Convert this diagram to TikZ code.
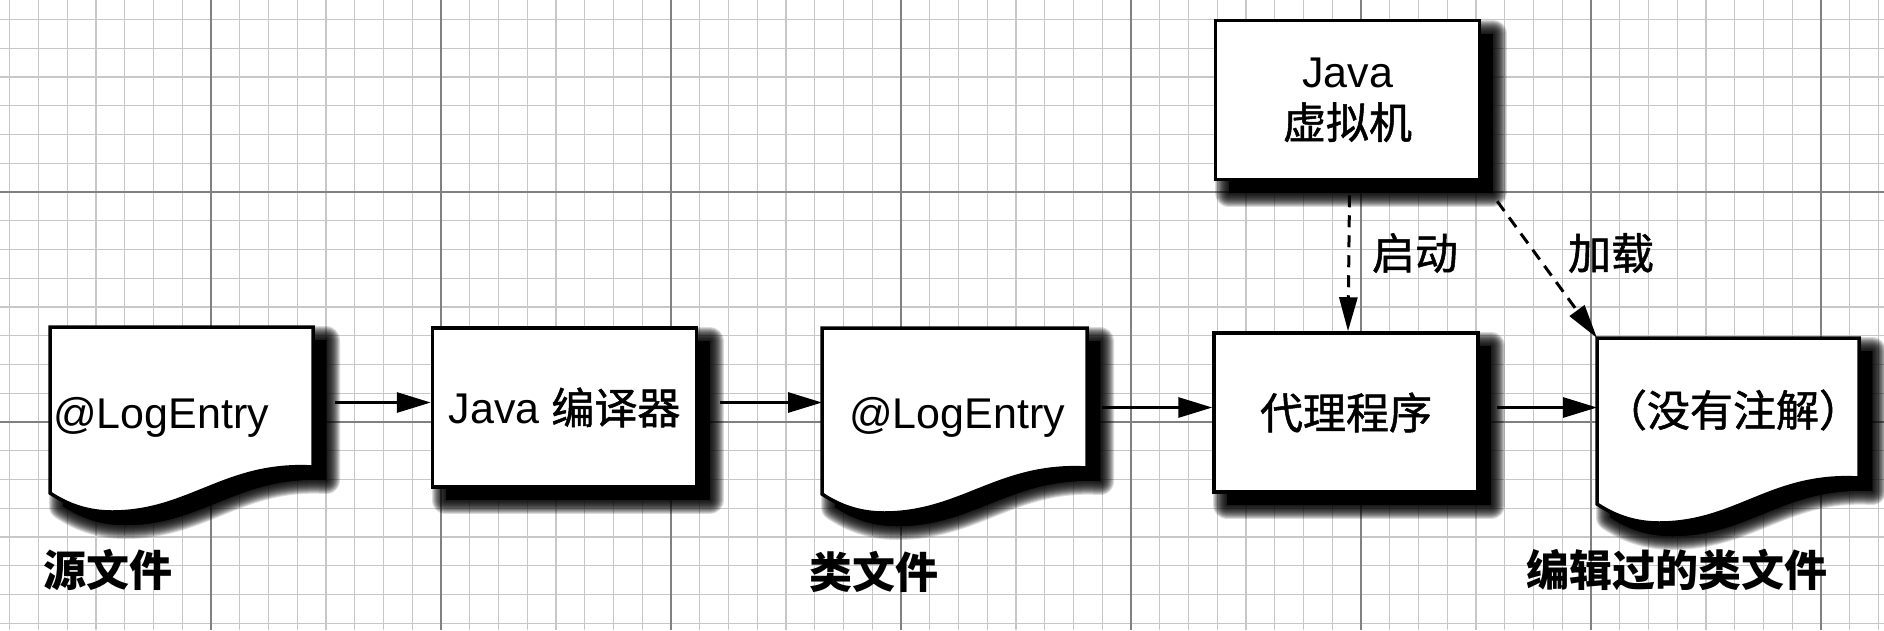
\documentclass[tikz,border=0pt]{standalone}
\usepackage{fontspec}
\setmainfont{Liberation Sans}
\newfontfamily\cjk{Noto Sans CJK SC}
\newfontfamily\cjkm{Noto Sans CJK SC}[FakeBold=1.2]
\usetikzlibrary{arrows.meta}
\tikzset{
  minorg/.style={draw=black!22, line width=1.3pt},
  majorg/.style={draw=black!50, line width=1.8pt},
  shl/.style={preaction={draw=black, fill=black, line width=#1, opacity=0.14, line join=round, transform canvas={shift={(13pt,-13pt)}}}},
  shad/.style={shl=28pt, shl=26pt, shl=24pt, shl=22pt, shl=20pt, shl=18pt, shl=16pt, shl=14pt, shl=12pt, shl=10pt, shl=8pt, shl=6pt, shl=4pt, shl=2pt,
    preaction={fill=black, transform canvas={shift={(13pt,-13pt)}}}},
  box/.style={draw=black, line width=3.5pt, fill=white, shad, minimum width=264pt, minimum height=159pt, inner sep=0pt, font=\fontsize{43pt}{53pt}\selectfont, align=center},
  docshape/.style={draw=black, line width=3.5pt, fill=white, shad, line join=miter},
  docanchor/.style={minimum width=263pt, minimum height=140pt, inner sep=0pt, anchor=north west},
  txt/.style={font=\fontsize{43pt}{53pt}\selectfont, inner sep=0pt},
  lbl/.style={font=\fontsize{43pt}{53pt}\selectfont\cjk\bfseries, inner sep=0pt},
  arr/.style={line width=3pt, -{Triangle[length=34pt,width=20pt,fill=black]}},
  darr/.style={line width=3pt, dash pattern=on 12pt off 8pt, -{Triangle[length=34pt,width=18pt,fill=black]}},
}
\newcommand\mydocpath[3]{%
  (#1,#2) -- (#3,#2) -- (#3,{#2+140})
  .. controls ({#3-88},{#2+135}) and ({#1+140},{#2+185}) .. ({#1+62},{#2+185})
  .. controls ({#1+35},{#2+185}) and ({#1+15},{#2+176}) .. (#1,{#2+166}) -- cycle}
\begin{document}
\begin{tikzpicture}[x=1pt,y=-1pt]
\useasboundingbox (0,0) rectangle (1884,630);
\fill[white] (0,0) rectangle (1884,630);
% grid
\foreach \i in {0,...,65} { \draw[minorg] ({9.75+28.75*\i},0) -- ({9.75+28.75*\i},630); }
\foreach \j in {0,...,21} { \draw[minorg] (0,{19.5+28.75*\j}) -- (1884,{19.5+28.75*\j}); }
\foreach \x in {211,441,671,901,1131,1361,1591,1821} { \draw[majorg] (\x,0) -- (\x,630); }
\foreach \y in {192,422} { \draw[majorg] (0,\y) -- (1884,\y); }

% documents
\path[docshape] \mydocpath{50}{327}{313};
\path[docshape] \mydocpath{822}{328}{1087};
\path[docshape] \mydocpath{1597}{338}{1859};
\node[docanchor] (doc1) at (50,327) {};
\node[docanchor] (doc2) at (822,328) {};
\node[docanchor] (doc3) at (1597,338) {};
\node[txt] (t1) at (161,417) {@LogEntry};
\node[txt] (t2) at (957,417) {@LogEntry};
\node[txt] (t3) at (1733,410) {\cjkm （没有注解）};

% boxes
\node[box] (comp) at (564.5,407.5) {Java {\cjkm 编译器}};
\node[box] (agent) at (1346,412.5) {\cjkm 代理程序};
\node[box] (jvm) at (1347.5,100) {Java\\[-2pt]{\cjkm 虚拟机}};

% labels
\node[lbl] (l1) at (108,570) {源文件};
\node[lbl] (l2) at (874,572) {类文件};
\node[lbl] (l3) at (1677,570) {编辑过的类文件};
\node[txt] (lq) at (1415,253) {\cjkm 启动};
\node[txt] (lj) at (1611,253) {\cjkm 加载};

% connectors
\draw[arr] ([xshift=22pt,yshift=5pt]doc1.east |- comp.west) -- ([yshift=5pt]comp.west);
\draw[arr] ([xshift=22pt,yshift=5pt]comp.east) -- ([yshift=5pt]comp.east -| doc2.west);
\draw[arr] ([xshift=17pt,yshift=5pt]doc2.east |- agent.west) -- ([yshift=5pt]agent.west);
\draw[arr] ([xshift=17pt,yshift=5pt]agent.east) -- ([yshift=5pt]agent.east -| doc3.west);
\draw[darr] ([xshift=2pt,yshift=-14pt]jvm.south) -- ([xshift=2pt]agent.north);
\draw[darr] ([xshift=16pt,yshift=-20pt]jvm.south east) -- (doc3.north west);
\end{tikzpicture}
\end{document}
